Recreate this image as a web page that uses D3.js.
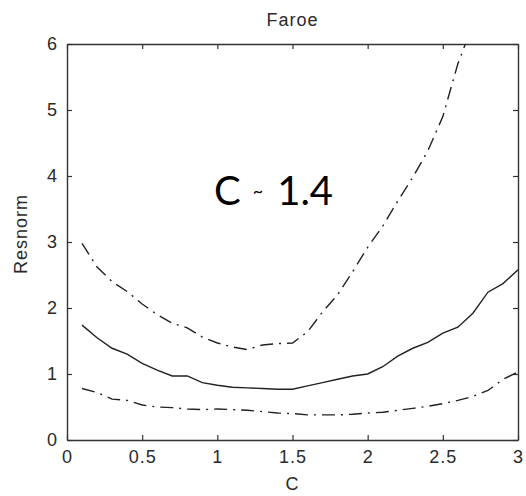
<!DOCTYPE html>
<html>
<head>
<meta charset="utf-8">
<script src="https://cdn.jsdelivr.net/npm/d3@7/dist/d3.min.js"></script>
<style>
  html, body { margin: 0; padding: 0; background: #fff; }
  svg { display: block; }
  .tick-label { font-family: "Liberation Sans", Arial, sans-serif; font-size: 18px; fill: #2a2a2a; letter-spacing: 1px; }
</style>
</head>
<body>
<svg id="chart" width="526" height="496"></svg>
<script>
// Resnorm as a function of C for the Faroe data set
const cValues = [0.1, 0.2, 0.3, 0.4, 0.5, 0.6, 0.7, 0.8, 0.9, 1.0,
                 1.1, 1.2, 1.3, 1.4, 1.5, 1.6, 1.7, 1.8, 1.9, 2.0,
                 2.1, 2.2, 2.3, 2.4, 2.5, 2.6, 2.7, 2.8, 2.9, 3.0];

const resnormMid = [1.74, 1.55, 1.39, 1.30, 1.16, 1.06, 0.97, 0.97, 0.87, 0.83,
                    0.80, 0.79, 0.78, 0.77, 0.77, 0.82, 0.87, 0.92, 0.97, 1.00,
                    1.11, 1.27, 1.39, 1.48, 1.62, 1.71, 1.92, 2.24, 2.37, 2.58];

const resnormUpper = [2.98, 2.62, 2.40, 2.25, 2.06, 1.90, 1.77, 1.70, 1.56, 1.47,
                      1.41, 1.37, 1.44, 1.46, 1.47, 1.64, 1.94, 2.20, 2.55, 2.92,
                      3.24, 3.62, 3.98, 4.38, 4.90, 5.70, 6.30];

const resnormLower = [0.78, 0.72, 0.62, 0.60, 0.53, 0.50, 0.49, 0.47, 0.46, 0.47,
                      0.46, 0.45, 0.43, 0.41, 0.40, 0.38, 0.38, 0.38, 0.39, 0.41,
                      0.42, 0.45, 0.48, 0.51, 0.55, 0.60, 0.66, 0.75, 0.92, 1.03];

const xTicks = [0, 0.5, 1, 1.5, 2, 2.5, 3];
const xTickLabels = ["0", "0.5", "1", "1.5", "2", "2.5", "3"];
const yTicks = [0, 1, 2, 3, 4, 5, 6];
const yTickLabels = ["0", "1", "2", "3", "4", "5", "6"];

const titleText = "Faroe";
const xLabel = "C";
const yLabel = "Resnorm";

const svg = d3.select("#chart");
const plotLeft = 67, plotRight = 518, plotTop = 44, plotBottom = 440;

const x = d3.scaleLinear().domain([0, 3]).range([plotLeft, plotRight]);
const y = d3.scaleLinear().domain([0, 6]).range([plotBottom, plotTop]);

// clip region for the plotting area
svg.append("defs").append("clipPath").attr("id", "plot-clip")
  .append("rect").attr("x", plotLeft).attr("y", plotTop)
  .attr("width", plotRight - plotLeft).attr("height", plotBottom - plotTop);

const axisColor = "#333";
const tickLen = 5;

// axes: bottom/left with labels, top/right as inward-only ticks
const bottomAxis = d3.axisBottom(x).tickValues(xTicks)
  .tickFormat((d, i) => xTickLabels[i]).tickSizeInner(-tickLen).tickSizeOuter(0).tickPadding(10);
const topAxis = d3.axisTop(x).tickValues(xTicks).tickFormat("")
  .tickSizeInner(-tickLen).tickSizeOuter(0);
const leftAxis = d3.axisLeft(y).tickValues(yTicks)
  .tickFormat((d, i) => yTickLabels[i]).tickSizeInner(-tickLen).tickSizeOuter(0).tickPadding(9);
const rightAxis = d3.axisRight(y).tickValues(yTicks).tickFormat("")
  .tickSizeInner(-tickLen).tickSizeOuter(0);

function styleAxis(g) {
  g.attr("font-size", null).attr("font-family", null);
  g.select(".domain").attr("stroke", axisColor).attr("stroke-width", 1.4);
  g.selectAll(".tick line").attr("stroke", axisColor).attr("stroke-width", 1.2);
  g.selectAll(".tick text").attr("class", "tick-label").attr("fill", null);
}

svg.append("g").attr("transform", `translate(0,${plotBottom})`).call(bottomAxis).call(styleAxis);
svg.append("g").attr("transform", `translate(0,${plotTop})`).call(topAxis).call(styleAxis);
svg.append("g").attr("transform", `translate(${plotLeft},0)`).call(leftAxis).call(styleAxis);
svg.append("g").attr("transform", `translate(${plotRight},0)`).call(rightAxis).call(styleAxis);

// curves
const line = d3.line()
  .x((d, i) => x(cValues[i]))
  .y(d => y(d));

const plot = svg.append("g").attr("clip-path", "url(#plot-clip)");
const series = [
  { values: resnormUpper, dash: "13,6,2,6" },
  { values: resnormMid, dash: null },
  { values: resnormLower, dash: "13,6,2,6" }
];
plot.selectAll("path.curve").data(series).join("path")
  .attr("class", "curve")
  .attr("d", s => line(s.values))
  .attr("fill", "none")
  .attr("stroke", "#222")
  .attr("stroke-width", 1.4)
  .attr("stroke-dasharray", s => s.dash);

// title and axis labels
svg.append("text")
  .attr("x", (plotLeft + plotRight) / 2).attr("y", 26)
  .attr("text-anchor", "middle")
  .attr("class", "tick-label")
  .text(titleText);

svg.append("text")
  .attr("x", (plotLeft + plotRight) / 2).attr("y", 490)
  .attr("text-anchor", "middle")
  .attr("class", "tick-label")
  .text(xLabel);

svg.append("text")
  .attr("transform", `translate(27,${(plotTop + plotBottom) / 2 - 8}) rotate(-90)`)
  .attr("text-anchor", "middle")
  .attr("class", "tick-label")
  .text(yLabel);

// annotation of the optimal C
const note = svg.append("text")
  .attr("x", 214).attr("y", 205)
  .attr("font-family", "Lato, 'Open Sans', sans-serif")
  .attr("fill", "#000");
note.append("tspan").attr("font-size", 40).text("C");
note.append("tspan").attr("font-size", 18).attr("dx", 12).attr("dy", -8).text("~");
note.append("tspan").attr("font-size", 40).attr("dx", 14).attr("dy", 8).text("1.4");
</script>
</body>
</html>
